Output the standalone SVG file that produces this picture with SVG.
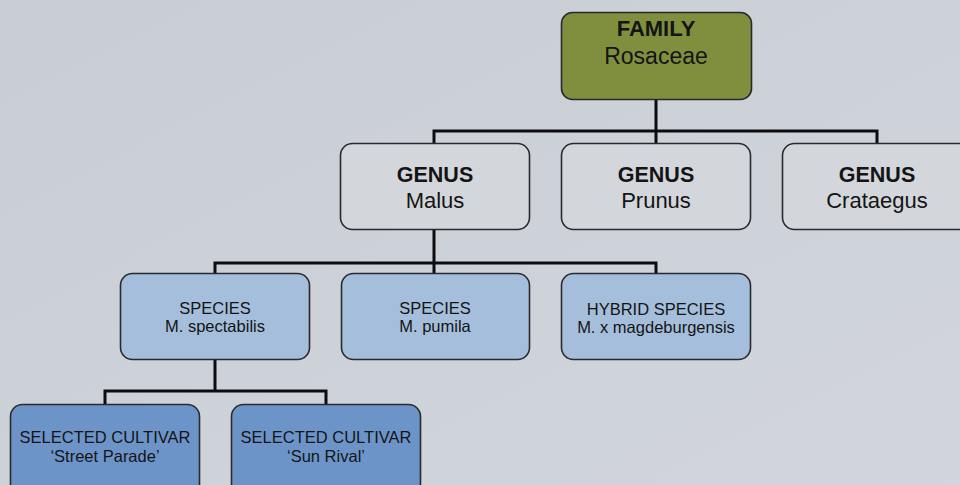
<svg xmlns="http://www.w3.org/2000/svg" width="960" height="485" viewBox="0 0 960 485">
  <defs>
    <linearGradient id="bg" x1="0" y1="0" x2="1" y2="1">
      <stop offset="0" stop-color="#c8cdd5"/>
      <stop offset="1" stop-color="#d2d6dc"/>
    </linearGradient>
    <style>
      .box { stroke: #2a2a2e; stroke-width: 1.6; }
      .family { fill: #7f8f3d; }
      .genus { fill: #d3d6da; }
      .species { fill: #a5bedb; }
      .cultivar { fill: #6d94c9; }
      text { font-family: "Liberation Sans", Arial, sans-serif; fill: #141414; text-anchor: middle; }
      .fh { font-size: 22px; font-weight: bold; }
      .fn { font-size: 23px; }
      .gh { font-size: 21.5px; font-weight: bold; }
      .gn { font-size: 22px; }
      .sh { font-size: 16.5px; }
      .sn { font-size: 16.5px; }
      .links { fill: none; stroke: #0d0d0f; stroke-width: 3; }
    </style>
  </defs>

  <rect width="960" height="485" fill="url(#bg)"/>

  <!-- connectors -->
  <g id="connectors" class="links">
    <path d="M656 100 V131 M434 144 V131 H877 V144 M656 131 V144"/>
    <path d="M434 230 V263 M215 275 V263 H656 V275 M434 263 V275"/>
    <path d="M215 360 V391 M105 405 V391 H326 V405"/>
  </g>

  <g id="family-rosaceae">
    <rect class="box family" x="561.5" y="12.5" width="190" height="87" rx="11"/>
    <text class="fh" x="656" y="36">FAMILY</text>
    <text class="fn" x="656" y="64">Rosaceae</text>
  </g>

  <g id="genus-malus">
    <rect class="box genus" x="340.5" y="143.5" width="189" height="86" rx="12"/>
    <text class="gh" x="435" y="182">GENUS</text>
    <text class="gn" x="435" y="208">Malus</text>
  </g>
  <g id="genus-prunus">
    <rect class="box genus" x="561.5" y="143.5" width="189" height="86" rx="12"/>
    <text class="gh" x="656" y="182">GENUS</text>
    <text class="gn" x="656" y="208">Prunus</text>
  </g>
  <g id="genus-crataegus">
    <rect class="box genus" x="782.5" y="143.5" width="189" height="86" rx="12"/>
    <text class="gh" x="877" y="182">GENUS</text>
    <text class="gn" x="877" y="208">Crataegus</text>
  </g>

  <g id="species-spectabilis">
    <rect class="box species" x="120.5" y="273.5" width="189" height="86" rx="12"/>
    <text class="sh" x="215" y="314">SPECIES</text>
    <text class="sn" x="215" y="332">M. spectabilis</text>
  </g>
  <g id="species-pumila">
    <rect class="box species" x="341.5" y="273.5" width="188" height="86" rx="12"/>
    <text class="sh" x="435" y="314">SPECIES</text>
    <text class="sn" x="435" y="332">M. pumila</text>
  </g>
  <g id="species-magdeburgensis">
    <rect class="box species" x="561.5" y="273.5" width="189" height="86" rx="12"/>
    <text class="sh" x="656" y="315">HYBRID SPECIES</text>
    <text class="sn" x="656" y="333">M. x magdeburgensis</text>
  </g>

  <g id="cultivar-street-parade">
    <rect class="box cultivar" x="10.5" y="404.5" width="189" height="96" rx="12"/>
    <text class="sh" x="105" y="443">SELECTED CULTIVAR</text>
    <text class="sn" x="105" y="462">‘Street Parade’</text>
  </g>
  <g id="cultivar-sun-rival">
    <rect class="box cultivar" x="231.5" y="404.5" width="189" height="96" rx="12"/>
    <text class="sh" x="326" y="443">SELECTED CULTIVAR</text>
    <text class="sn" x="326" y="462">‘Sun Rival’</text>
  </g>
</svg>
